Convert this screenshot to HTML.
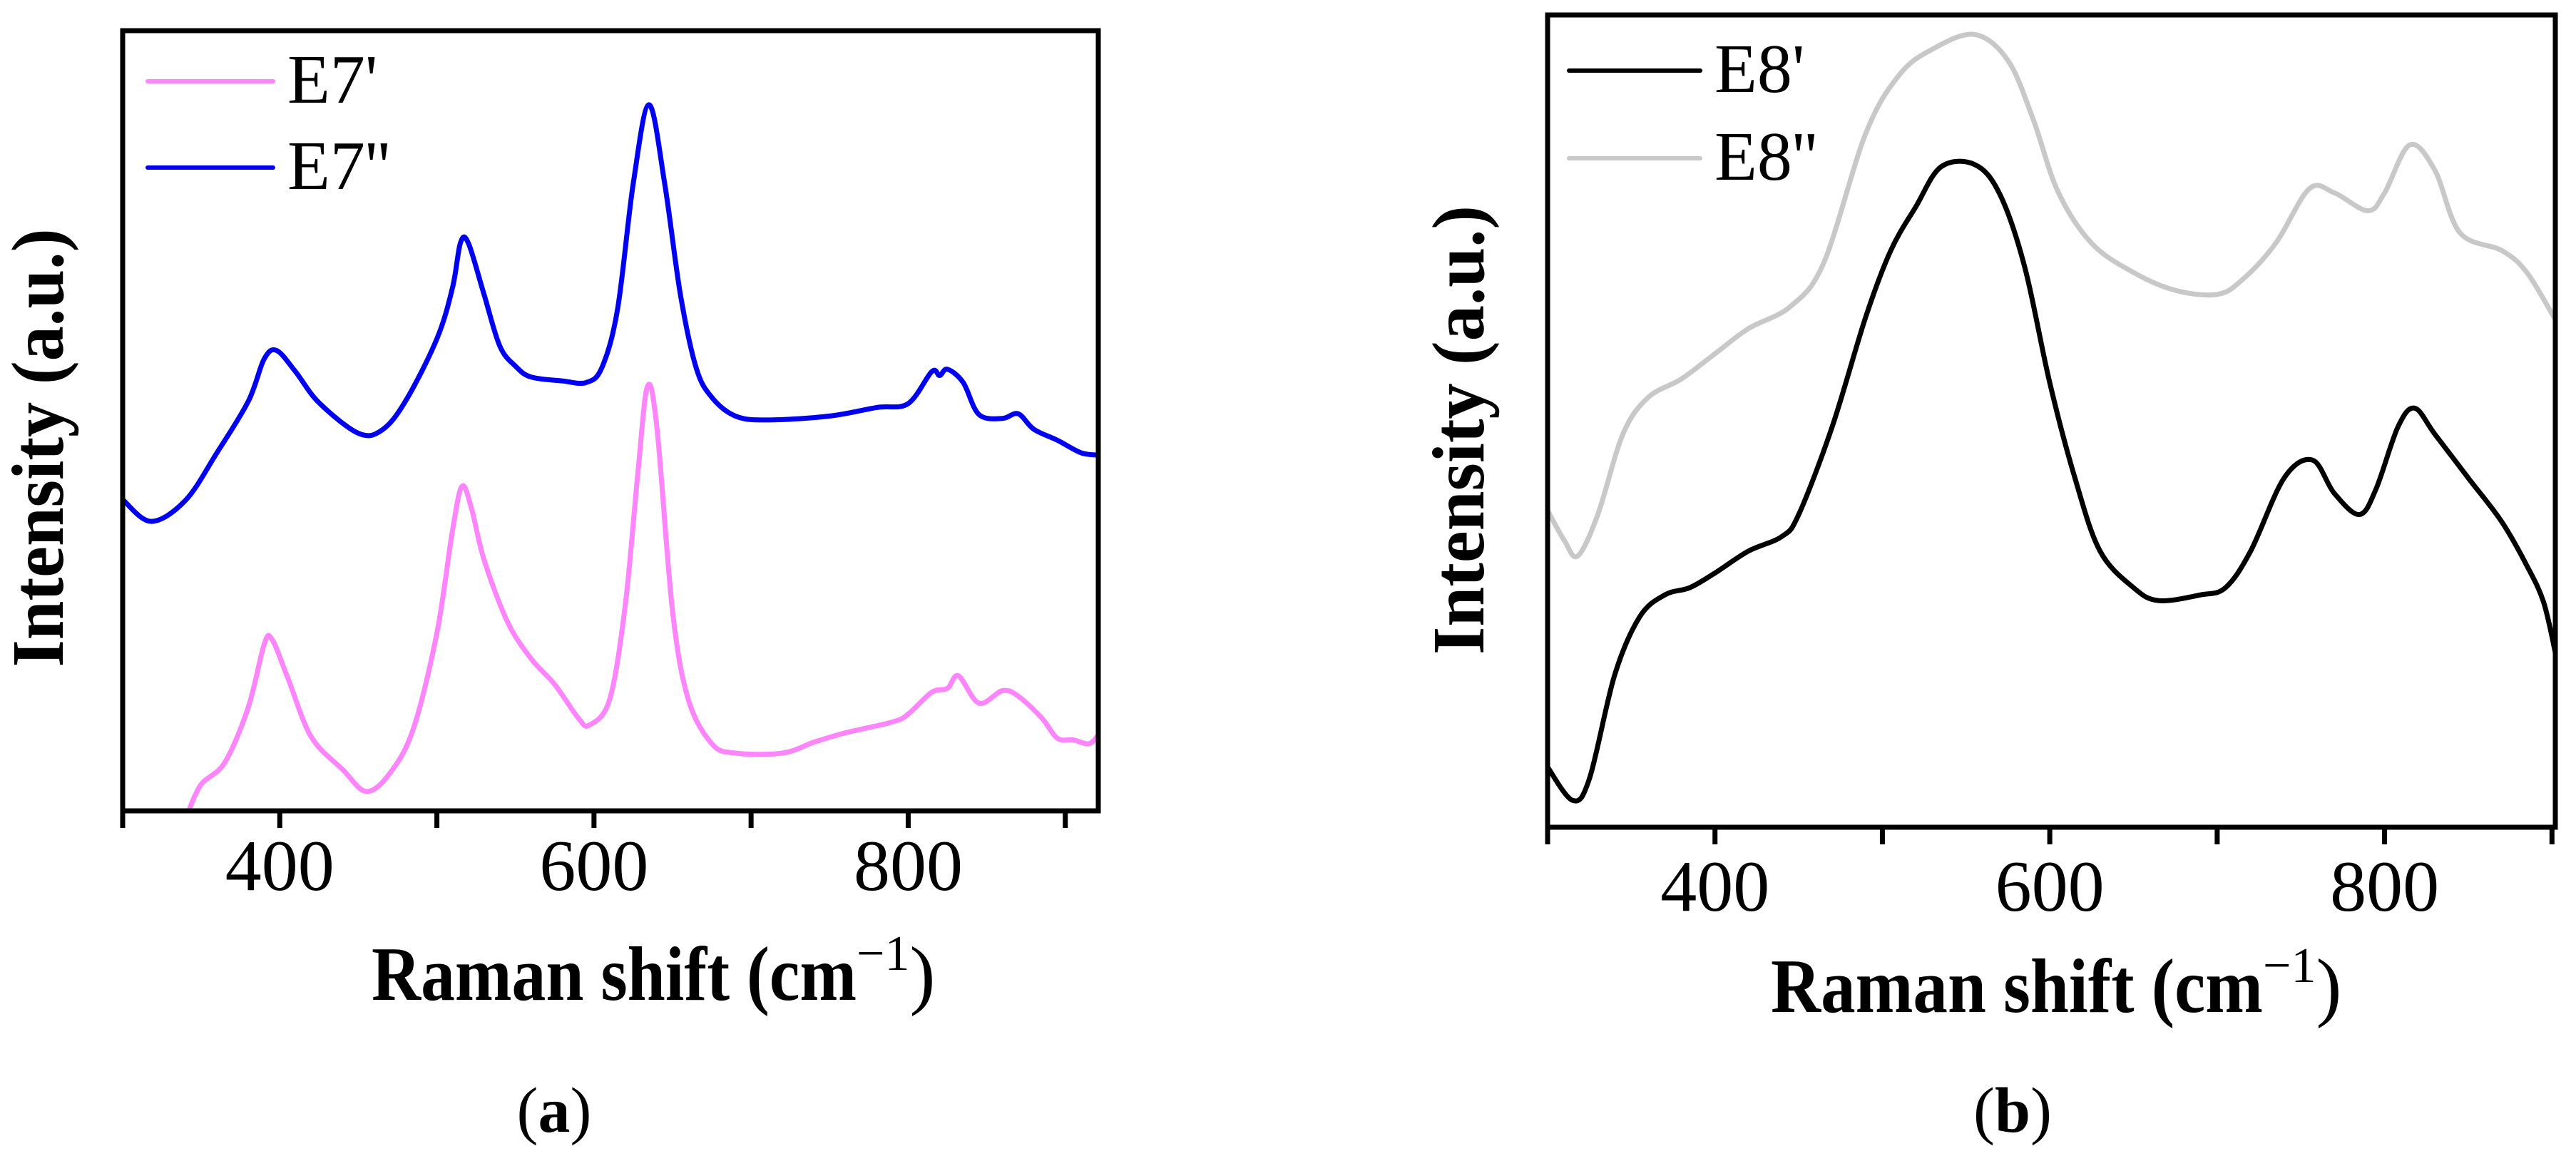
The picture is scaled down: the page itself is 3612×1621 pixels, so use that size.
<!DOCTYPE html>
<html><head><meta charset="utf-8">
<style>
html,body{margin:0;padding:0;background:#fff;}
svg{display:block;}
text{font-family:"Liberation Serif",serif;fill:#000;}
</style></head>
<body>
<svg id="fig" width="3612" height="1621" viewBox="0 0 3612 1621" xmlns="http://www.w3.org/2000/svg">
<rect width="3612" height="1621" fill="#fff"/>
<g id="panelA"></g>
<g id="panelB"></g>
</svg>
<script>
// ---------- data (panel a) ----------
const xA_E7b = [300,318,340,360,380,390,398,410,425,450,465,480,500,510,515,520,530,540,550,560,580,595,605,615,625,635,645,655,665,675,690,710,750,780,800,815,820,825,835,845,860,870,880,895,910,921];
const yA_E7b = [39.9,37.1,39.8,45.9,52.5,57.9,59.0,56.3,52.3,48.4,48.8,52.5,60.5,67.1,72.8,72.8,66.2,59.6,57.0,55.6,55.1,54.9,56.8,64.3,80.4,90.5,80.4,66.2,56.8,53.0,50.6,50.1,50.6,51.7,52.2,56.3,55.8,56.6,54.9,50.8,50.3,50.9,48.9,47.5,45.9,45.6];
const xA_E7a = [342,350,365,380,390,395,405,420,440,455,470,485,500,510,516,522,530,545,560,575,590,597,610,620,628,634,640,650,660,675,690,720,740,760,790,800,815,825,832,845,860,870,885,895,905,915,921];
const yA_E7a = [0,3.4,6.2,13.3,21.3,22.0,17.1,9.5,5.3,2.5,4.8,10.5,22.8,36.0,41.6,38.8,32.2,24.2,19.5,16.2,11.9,11.0,14.3,26.5,43.5,54.4,49.2,25.6,14.3,8.6,7.4,7.4,8.8,10.0,11.4,12.4,15.2,15.7,17.3,13.8,15.4,14.7,11.9,9.3,9.1,8.6,9.7];
// ---------- data (panel b) ----------
const xB_E8a = [300,315,325,340,355,370,385,400,420,440,450,470,490,505,520,535,555,570,585,600,615,630,650,665,690,705,720,740,757,770,785,795,808,818,830,850,870,885,895,902];
const yB_E8a = [7.4,3.3,6.0,18.7,25.9,28.6,29.5,31.3,34.0,35.8,38.5,49.3,62.8,71.0,76.4,81.3,81.6,78.0,69.0,54.7,43.0,34.0,29.5,27.9,28.6,29.5,34.0,43.0,45.2,41.1,38.5,41.7,49.3,51.6,48.4,43.0,37.6,32.2,27.7,21.5];
const xB_E8b = [300,310,318,330,345,360,380,400,420,445,465,490,510,530,555,575,590,605,625,650,675,700,715,735,755,770,790,800,815,830,845,870,885,902];
const yB_E8b = [39.0,35.3,33.4,38.5,48.4,52.9,55.2,58.3,61.4,64.1,69.5,85.4,92.6,95.8,97.6,94.4,87.2,78.2,71.9,68.3,66.1,65.6,67.4,71.9,78.6,78.1,75.9,78.1,84.0,80.9,73.2,71.0,68.3,62.5];
const tickVals = [300,400,500,600,700,800,900];
const tickLabels = ["400","600","800"];
const tickLabelVals = [400,600,800];

const NS = "http://www.w3.org/2000/svg";
function mk(tag, attrs, parent){ const e=document.createElementNS(NS,tag); for(const k in attrs) e.setAttribute(k,attrs[k]); parent.appendChild(e); return e; }

function smoothPath(pts){
  let d = "M"+pts[0][0].toFixed(1)+","+pts[0][1].toFixed(1);
  for(let i=0;i<pts.length-1;i++){
    const p0=pts[Math.max(0,i-1)], p1=pts[i], p2=pts[i+1], p3=pts[Math.min(pts.length-1,i+2)];
    const c1=[p1[0]+(p2[0]-p0[0])/6, p1[1]+(p2[1]-p0[1])/6];
    const c2=[p2[0]-(p3[0]-p1[0])/6, p2[1]-(p3[1]-p1[1])/6];
    d += " C"+c1[0].toFixed(1)+","+c1[1].toFixed(1)+" "+c2[0].toFixed(1)+","+c2[1].toFixed(1)+" "+p2[0].toFixed(1)+","+p2[1].toFixed(1);
  }
  return d;
}

function panel(g, cfg){
  const X = v => cfg.L + (v-cfg.x0)/(cfg.x1-cfg.x0)*(cfg.R-cfg.L);
  const Y = v => cfg.B - v/100*(cfg.B-cfg.T);
  const clipId = "clip"+cfg.id;
  const defs = mk("defs",{},g);
  const cp = mk("clipPath",{id:clipId},defs);
  mk("rect",{x:cfg.L,y:cfg.T,width:cfg.R-cfg.L,height:cfg.B-cfg.T},cp);
  cfg.series.forEach(s=>{
    const pts = s.x.map((xv,i)=>[X(xv),Y(s.y[i])]);
    const p = mk("path",{d:smoothPath(pts),fill:"none",stroke:s.color,"stroke-width":7,"stroke-linejoin":"round","clip-path":"url(#"+clipId+")"},g);
    
    
  });
  const frame = mk("rect",{x:cfg.L,y:cfg.T,width:cfg.R-cfg.L,height:cfg.B-cfg.T,fill:"none",stroke:"#000","stroke-width":7},g);
  
  
  tickVals.forEach(v=>{
    if(v<cfg.x0||v>cfg.x1) return;
    const t = mk("line",{x1:X(v),x2:X(v),y1:cfg.B,y2:cfg.B+24,stroke:"#000","stroke-width":7},g);
    
    
  });
  tickLabelVals.forEach((v,i)=>{
    const t = mk("text",{x:X(v),y:cfg.tickY,"font-size":102,"text-anchor":"middle"},g);
    t.textContent = tickLabels[i];
    
    
  });
  // legend
  cfg.series.forEach((s,i)=>{
    const ly = cfg.legY[i];
    const l = mk("line",{x1:cfg.legX0,x2:cfg.legX1,y1:ly,y2:ly,stroke:s.color,"stroke-width":6,"stroke-linecap":"round"},g);
    
    
    const t = mk("text",{x:cfg.legX1+20,y:ly+30,"font-size":98},g);
    t.textContent = s.label;
    
    
  });
  // y title
  const yt = mk("text",{x:0,y:0,"font-size":104,"font-weight":"bold","text-anchor":"middle",transform:"translate("+cfg.ytX+","+cfg.ytY+") rotate(-90)",textLength:cfg.ytLen,lengthAdjust:"spacingAndGlyphs"},g);
  yt.textContent = "Intensity (a.u.)";
  
  
  // x title
  const xt = mk("text",{x:cfg.xtX0,y:cfg.xtY,"font-size":108,"font-weight":"bold"},g);
  
  
  const s1 = mk("tspan",{},xt); s1.textContent = "Raman shift (cm";
  s1.setAttribute("textLength", cfg.xtLen); s1.setAttribute("lengthAdjust","spacingAndGlyphs");
  const s2 = mk("tspan",{dy:-42,"font-size":70,"font-weight":"normal"},xt); s2.textContent = "\u22121";
  const s3 = mk("tspan",{dy:42,"font-weight":"normal"},xt); s3.textContent = ")";
  // caption
  const cap = mk("text",{x:cfg.capX,y:1587,"font-size":90,"text-anchor":"middle"},g);
  
  
  const c1 = mk("tspan",{},cap); c1.textContent="(";
  const c2 = mk("tspan",{"font-weight":"bold"},cap); c2.textContent=cfg.cap;
  const c3 = mk("tspan",{},cap); c3.textContent=")";
}

panel(document.getElementById("panelA"),{
  id:"A", L:172, R:1540, T:43, B:1137, x0:300, x1:921, tickY:1248,
  series:[
    {name:"e7-prime", label:"E7'", color:"#ff85ff", x:xA_E7a, y:yA_E7a},
    {name:"e7-double-prime", label:"E7''", color:"#0000f0", x:xA_E7b, y:yA_E7b}
  ],
  legY:[114,235], legX0:207, legX1:383,
  ytX:88, ytY:628, ytLen:615,
  xtX0:521, xtY:1402, xtLen:680, capX:777, cap:"a"
});
panel(document.getElementById("panelB"),{
  id:"B", L:2170, R:3583, T:21, B:1160, x0:300, x1:902, tickY:1277,
  series:[
    {name:"e8-prime", label:"E8'", color:"#000000", x:xB_E8a, y:yB_E8a},
    {name:"e8-double-prime", label:"E8''", color:"#c8c8c8", x:xB_E8b, y:yB_E8b}
  ],
  legY:[99,222], legX0:2200, legX1:2384,
  ytX:2080, ytY:603, ytLen:630,
  xtX0:2483, xtY:1419, xtLen:690, capX:2822, cap:"b"
});
</script>
</body></html>
